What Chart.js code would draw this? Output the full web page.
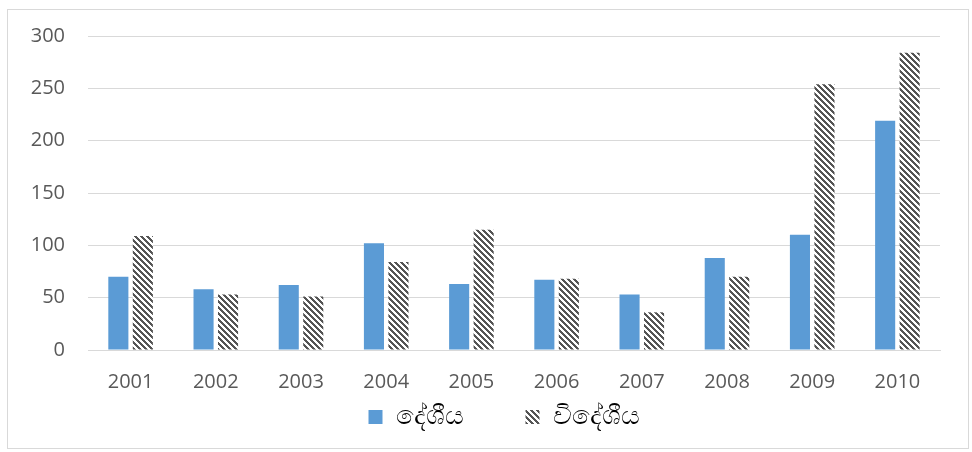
<!DOCTYPE html>
<html lang="si">
<head>
<meta charset="UTF-8" />
<title>දේශීය / විදේශීය</title>
<script src="https://cdn.jsdelivr.net/npm/chart.js"></script>
<style>
  html, body { margin: 0; padding: 0; background: #fff; }
  #wrap { position: relative; width: 972px; height: 452px; }
  #frame {
    position: absolute; left: 7px; top: 9px; width: 960px; height: 438px;
    border: 1px solid #d9d9d9; pointer-events: none;
  }
  canvas { position: absolute; left: 0; top: 0; }
</style>
</head>
<body>
<div id="wrap">
  <canvas id="grafico" width="972" height="452"></canvas>
  <div id="frame"></div>
</div>

<script>
  // dados
  const anos = ['2001', '2002', '2003', '2004', '2005', '2006', '2007', '2008', '2009', '2010'];
  const deshiya = [70, 58, 62, 102, 63, 67, 53, 88, 110, 219];
  const videshiya = [109, 53, 51, 84, 115, 68, 36, 70, 254, 284];
  const serieNomes = ['දේශීය', 'විදේශීය'];
  const yTicks = [0, 50, 100, 150, 200, 250, 300];

  const legPad = 62;      // espaço entre itens da legenda
  const legAltura = 42;   // altura reservada para a legenda
  const legCentro = 504;  // centro horizontal da legenda

  // hachura diagonal (tipo "wide downward diagonal" do Excel)
  function hachura() {
    const n = 6;
    const c = document.createElement('canvas');
    c.width = n; c.height = n;
    const g = c.getContext('2d');
    const img = g.createImageData(n, n);
    for (let y = 0; y < n; y++) {
      for (let x = 0; x < n; x++) {
        const on = ((x - y + 2 * n) % n) < 3;
        const v = on ? 0x55 : 0xff;
        const i = (y * n + x) * 4;
        img.data[i] = v; img.data[i + 1] = v; img.data[i + 2] = v; img.data[i + 3] = 255;
      }
    }
    g.putImageData(img, 0, 0);
    return document.getElementById('grafico').getContext('2d').createPattern(c, 'repeat');
  }

  // legenda: espaço grande entre itens mas altura pequena, e centrada à mão
  const ajustaLegenda = {
    id: 'ajustaLegenda',
    beforeLayout(chart) {
      const lg = chart.legend;
      if (lg && !lg._ajustado) {
        const fitOrig = lg.fit.bind(lg);
        lg.fit = function () { fitOrig(); this.height = legAltura; };
        lg._ajustado = true;
      }
    },
    afterLayout(chart) {
      const lg = chart.legend;
      const desloc = legCentro - (lg.left + lg.right) / 2;
      lg.left += desloc;
      lg.right += desloc;
      lg.top -= legPad - 8;
    }
  };

  const fonte = "'Open Sans', sans-serif";
  const ctx = document.getElementById('grafico').getContext('2d');

  new Chart(ctx, {
    type: 'bar',
    data: {
      labels: anos,
      datasets: [
        { label: serieNomes[0], data: deshiya, backgroundColor: '#5b9bd5', borderWidth: 0 },
        { label: serieNomes[1], data: videshiya, backgroundColor: hachura(), borderWidth: 0 }
      ]
    },
    plugins: [ajustaLegenda],
    options: {
      responsive: false,
      animation: false,
      devicePixelRatio: 1,
      categoryPercentage: 0.575,
      barPercentage: 0.82,
      layout: { padding: { left: 0, right: 32, top: 36, bottom: 14 } },
      plugins: {
        tooltip: { enabled: false },
        legend: {
          position: 'bottom',
          labels: {
            boxWidth: 14, boxHeight: 14, padding: legPad,
            color: '#000',
            font: { family: fonte, size: 26 }
          }
        }
      },
      scales: {
        x: {
          grid: { display: false, drawTicks: false },
          border: { color: '#d9d9d9' },
          ticks: { color: '#595959', padding: 20, font: { family: fonte, size: 20 }, maxRotation: 0 },
          afterFit: s => { s.height = 46; }
        },
        y: {
          min: 0, max: 300,
          afterBuildTicks: s => { s.ticks = yTicks.map(v => ({ value: v })); },
          grid: { color: '#d9d9d9', drawTicks: false },
          border: { display: false },
          ticks: { color: '#595959', padding: 23, font: { family: fonte, size: 20 } },
          afterFit: s => { s.width = 88; }
        }
      }
    }
  });
</script>
</body>
</html>
